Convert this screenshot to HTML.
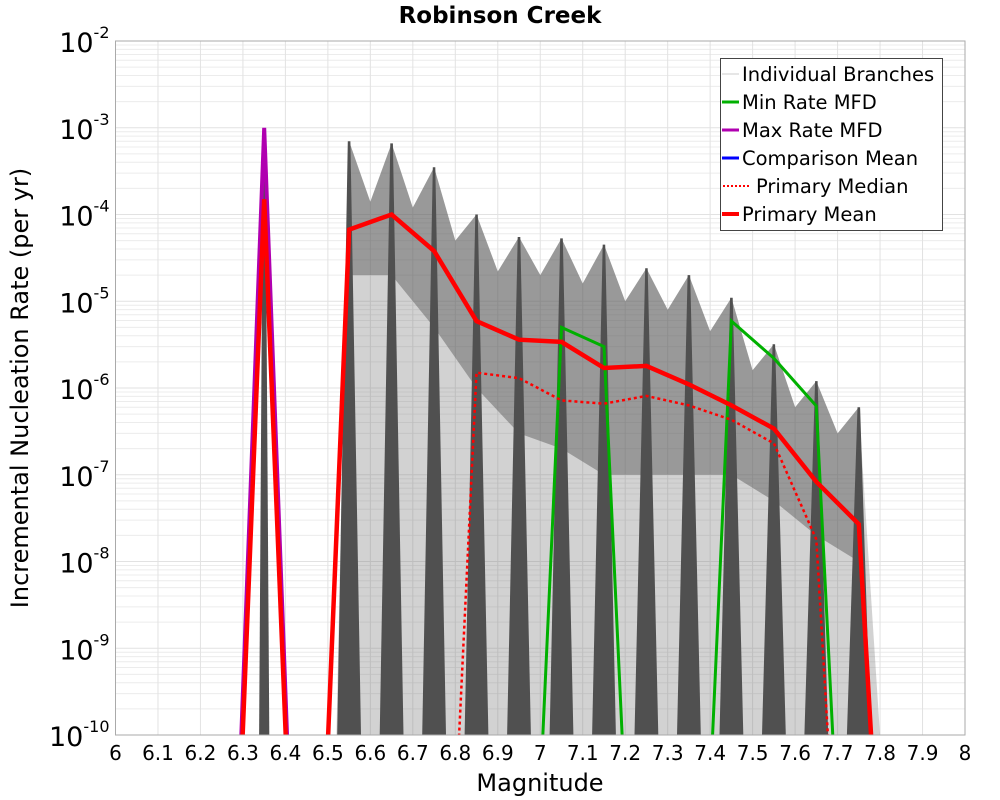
<!DOCTYPE html>
<html><head><meta charset="utf-8"><style>
html,body{margin:0;padding:0;background:#fff;overflow:hidden;width:1000px;height:800px;}
svg{display:block;}
svg text{font-family:"DejaVu Sans","Liberation Sans",sans-serif;}
</style></head><body>
<svg id="chart" width="1000" height="800" xmlns="http://www.w3.org/2000/svg">
<defs><clipPath id="plotclip"><rect x="115.5" y="41" width="849.5" height="694"/></clipPath></defs>
<rect width="1000" height="800" fill="#fff"/>
<text x="500" y="23" text-anchor="middle" font-size="23" font-weight="bold">Robinson Creek</text>
<g id="grid"></g>
<g id="series" clip-path="url(#plotclip)"></g>
<rect x="115.5" y="41" width="849.5" height="694" fill="none" stroke="#aaa" stroke-width="1"/>
<g id="axes"></g>
<text x="540" y="791" text-anchor="middle" font-size="24">Magnitude</text>
<text transform="translate(28,388) rotate(-90)" text-anchor="middle" font-size="24">Incremental Nucleation Rate (per yr)</text>
<g>
<rect x="720.5" y="58.5" width="222" height="172" fill="#fff" stroke="#444" stroke-width="1"/>
<g><line x1="722" y1="74" x2="739" y2="74" stroke="#ccc" stroke-width="1"/><text x="742" y="81" font-size="19.5">Individual Branches</text></g>
<g><line x1="722" y1="102" x2="739" y2="102" stroke="#00b000" stroke-width="3"/><text x="742" y="109" font-size="19.5">Min Rate MFD</text></g>
<g><line x1="722" y1="130" x2="739" y2="130" stroke="#b000b0" stroke-width="3"/><text x="742" y="137" font-size="19.5">Max Rate MFD</text></g>
<g><line x1="722" y1="158" x2="739" y2="158" stroke="#0000ff" stroke-width="3"/><text x="742" y="165" font-size="19.5">Comparison Mean</text></g>
<g><line x1="723" y1="186" x2="751" y2="186" stroke="#f00" stroke-width="2" stroke-dasharray="2,2"/><text x="756" y="193" font-size="19.5">Primary Median</text></g>
<g><line x1="722" y1="214" x2="739" y2="214" stroke="#f00" stroke-width="4"/><text x="742" y="221" font-size="19.5">Primary Mean</text></g>
</g>
</svg>
<script>
const xTicks=[6,6.1,6.2,6.3,6.4,6.5,6.6,6.7,6.8,6.9,7,7.1,7.2,7.3,7.4,7.5,7.6,7.7,7.8,7.9,8];
const yExps=[-2,-3,-4,-5,-6,-7,-8,-9,-10];
const Z=1e-16;
const mags=[6.25,6.35,6.45,6.55,6.65,6.75,6.85,6.95,7.05,7.15,7.25,7.35,7.45,7.55,7.65,7.75,7.85];
const meanVals=[Z,1.5e-4,Z,6.7e-5,1.0e-4,3.8e-5,5.9e-6,3.6e-6,3.4e-6,1.7e-6,1.8e-6,1.1e-6,6.3e-7,3.4e-7,8.3e-8,2.7e-8,Z];
const medianVals=[Z,Z,Z,Z,Z,Z,1.5e-6,1.3e-6,7.2e-7,6.6e-7,8.1e-7,6.3e-7,4.3e-7,2.3e-7,1.8e-8,Z,Z];
const minVals=[Z,Z,Z,Z,Z,Z,Z,Z,5.0e-6,3.0e-6,Z,Z,5.9e-6,2.2e-6,6.2e-7,Z,Z];
const maxVals=[Z,1.0e-3,Z,Z,Z,Z,Z,Z,Z,Z,Z,Z,Z,Z,Z,Z,Z];
const binMags=[6.35,6.55,6.65,6.75,6.85,6.95,7.05,7.15,7.25,7.35,7.45,7.55,7.65,7.75];
const branchPeak=[6e-4,7e-4,6.6e-4,3.5e-4,1.0e-4,5.5e-5,5.3e-5,4.5e-5,2.4e-5,2.0e-5,1.1e-5,3.2e-6,1.2e-6,6e-7];
const branchValley=[Z,1.4e-4,1.2e-4,5e-5,2.2e-5,2.0e-5,1.6e-5,1.0e-5,8e-6,4.5e-6,1.6e-6,6e-7,3e-7];
const denseLow=[Z,2e-5,2e-5,5e-6,1e-6,3e-7,2e-7,1e-7,1e-7,1e-7,1e-7,5e-8,2e-8,1e-8];

const X0=115.5,X1=965,Y0=41,Y1=735;
const sx=m=>X0+(m-6)/2*(X1-X0);
const sy=v=>{let l=Math.log10(Math.max(v,1e-30));return Y0+(-2-l)/8*(Y1-Y0);};
const NS="http://www.w3.org/2000/svg";
function mk(tag,attrs,parent){const e=document.createElementNS(NS,tag);for(const k in attrs)e.setAttribute(k,attrs[k]);parent.appendChild(e);return e;}
const grid=document.getElementById('grid'),axes=document.getElementById('axes'),ser=document.getElementById('series');
for(let e=-3;e>=-10;e--){for(let k=2;k<=9;k++){const y=sy(k*Math.pow(10,e));const l=mk('line',{x1:X0,x2:X1,y1:y,y2:y,stroke:'#ececec','stroke-width':1},grid);}}
yExps.forEach(e=>{const y=sy(Math.pow(10,e));const l=mk('line',{x1:X0,x2:X1,y1:y,y2:y,stroke:'#e2e2e2','stroke-width':1},grid);

const t=mk('text',{x:X0-6,y:y+11,'text-anchor':'end','font-size':27},axes);

t.appendChild(document.createTextNode('10'));const s=mk('tspan',{dy:-14,'font-size':16},t);s.textContent=String(e);});
xTicks.forEach(m=>{const x=sx(m);const l=mk('line',{x1:x,x2:x,y1:Y0,y2:Y1,stroke:'#e2e2e2','stroke-width':1},grid);

const t=mk('text',{x:x,y:760,'text-anchor':'middle','font-size':20},axes);
t.textContent=String(m);});
function pts(arr){return arr.map(p=>p[0].toFixed(1)+','+p[1].toFixed(1)).join(' ');}
let env=[];
for(let i=1;i<binMags.length;i++){env.push([sx(binMags[i]),sy(branchPeak[i])]);if(i<branchValley.length)env.push([sx(binMags[i]+0.05),sy(branchValley[i])]);}
const light=[[sx(6.52),Y1]].concat(env).concat([[sx(7.8),Y1]]);
const p1=mk('polygon',{points:pts(light),fill:'#777','fill-opacity':0.33},ser);

let lowPts=[];for(let i=binMags.length-1;i>=1;i--)lowPts.push([sx(binMags[i]),sy(denseLow[i])]);
const p2=mk('polygon',{points:pts(env.concat(lowPts)),fill:'#555','fill-opacity':0.45},ser);

binMags.forEach((m,i)=>{const hw=i===0?0.012:0.028;const tri=[[sx(m-hw),Y1],[sx(m-0.003),sy(branchPeak[i])],[sx(m+0.003),sy(branchPeak[i])],[sx(m+hw),Y1]];
const p=mk('polygon',{points:pts(tri),fill:'#505050'},ser);});
function line(vals,color,w,name,dash){const d=mags.map((m,i)=>[sx(m),sy(vals[i])]);
const a={points:pts(d),fill:'none',stroke:color,'stroke-width':w,'stroke-linejoin':'miter'};if(dash)a['stroke-dasharray']=dash;
const p=mk('polyline',a,ser);}
line(maxVals,'#b000b0',4,'max-rate-line');
line(minVals,'#00b000',3,'min-rate-line');
line(medianVals,'#f00',2.5,'primary-median-line','3,3');
line(meanVals,'#f00',4.5,'primary-mean-line');
</script>
</body></html>
